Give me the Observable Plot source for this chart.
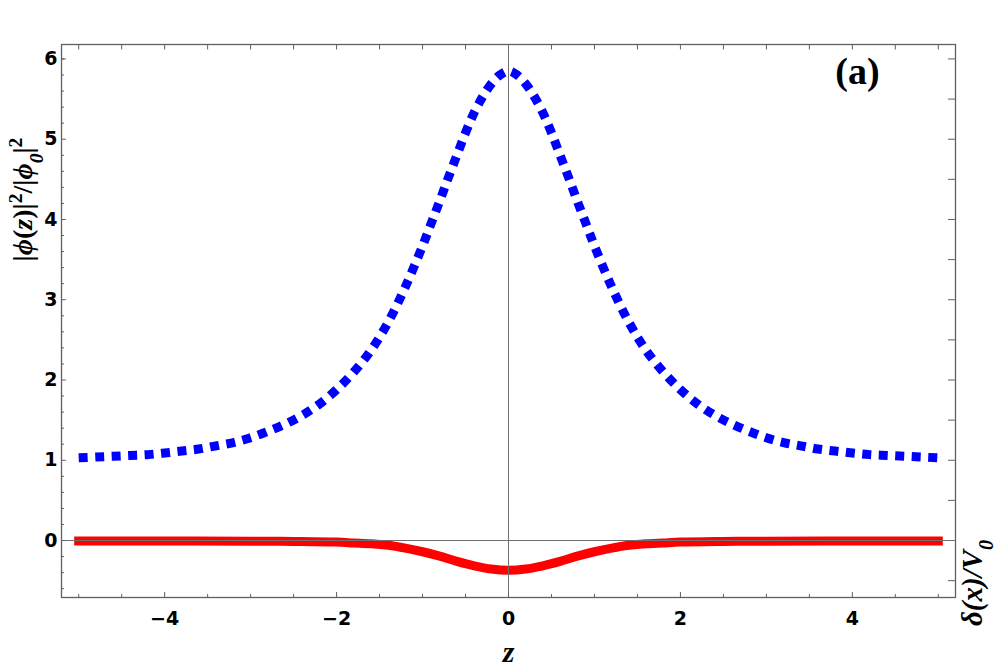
<!DOCTYPE html>
<html><head><meta charset="utf-8">
<script src="https://cdn.jsdelivr.net/npm/d3@7"></script>
<script src="https://cdn.jsdelivr.net/npm/@observablehq/plot@0.6"></script>
<style>html,body{margin:0;padding:0;background:#fff;} #chart{width:1000px;height:670px;overflow:hidden}</style>
</head><body><div id="chart"></div>
<script>
// Blue dotted curve |phi(z)|^2/|phi0|^2
const blueX = [-5,-4.8,-4.6,-4.4,-4.2,-4,-3.8,-3.6,-3.4,-3.2,-3,-2.8,-2.6,-2.4,-2.2,-2,-1.8,-1.6,-1.4,-1.2,-1,-0.9,-0.8,-0.7,-0.6,-0.5,-0.4,-0.3,-0.2,-0.1,0,0.1,0.2,0.3,0.4,0.5,0.6,0.7,0.8,0.9,1,1.2,1.4,1.6,1.8,2,2.2,2.4,2.6,2.8,3,3.2,3.4,3.6,3.8,4,4.2,4.4,4.6,4.8,5];
const blueY = [1.03,1.04,1.05,1.06,1.07,1.09,1.115,1.14,1.18,1.22,1.28,1.36,1.45,1.56,1.70,1.88,2.10,2.37,2.72,3.16,3.67,3.95,4.23,4.52,4.80,5.08,5.33,5.53,5.69,5.80,5.85,5.80,5.69,5.53,5.33,5.08,4.80,4.52,4.23,3.95,3.67,3.16,2.72,2.37,2.10,1.88,1.70,1.56,1.45,1.36,1.28,1.22,1.18,1.14,1.115,1.09,1.07,1.06,1.05,1.04,1.03];
// Red solid curve delta(x)/V0
const redX = [-5,-4,-3,-2.5,-2,-1.8,-1.6,-1.4,-1.2,-1,-0.8,-0.6,-0.4,-0.2,0,0.2,0.4,0.6,0.8,1,1.2,1.4,1.6,1.8,2,2.5,3,4,5];
const redY = [-0.005,-0.005,-0.008,-0.012,-0.02,-0.03,-0.04,-0.06,-0.095,-0.14,-0.195,-0.26,-0.315,-0.355,-0.37,-0.355,-0.315,-0.26,-0.195,-0.14,-0.095,-0.06,-0.04,-0.03,-0.02,-0.012,-0.008,-0.005,-0.005];

const xMajorTicks = [-4,-2,0,2,4];
const xMinorTicks = [-5,-4.5,-3.5,-3,-2.5,-1.5,-1,-0.5,0.5,1,1.5,2.5,3,3.5,4.5,5];
const xTopTicks = [-5,-4.5,-4,-3.5,-3,-2.5,-2,-1.5,-1,-0.5,0.5,1,1.5,2,2.5,3,3.5,4,4.5,5];
const yMajorTicks = [0,1,2,3,4,5,6];
const yMinorTicks = [-0.6,-0.4,-0.2,0.2,0.4,0.6,0.8,1.2,1.4,1.6,1.8,2.2,2.4,2.6,2.8,3.2,3.4,3.6,3.8,4.2,4.4,4.6,4.8,5.2,5.4,5.6,5.8,6.0];
const yRightTicks = [-0.5,0.5,1,1.5,2,2.5,3,3.5,4,4.5,5,5.5,6];

const xLabel = "z";
const yLabel = "|ϕ(z)|2/|ϕ0|2";
const y2Label = "δ(x)/V0";
const panelLabel = "(a)";

const blue = blueX.map((x, i) => ({x, y: blueY[i]}));
const red = redX.map((x, i) => ({x, y: redY[i]}));

const frameColor = "#606060";
const tickFont = {fontFamily: "DejaVu Sans", fontWeight: "bold", fontSize: 19, fill: "#000"};
const labelFont = {fontFamily: "Liberation Serif", fontWeight: "bold", fill: "#000", textAnchor: "middle", lineAnchor: "middle"};
const fmt = d => d < 0 ? "\u2212" + Math.abs(d) : String(d);

const plot = Plot.plot({
  width: 1000,
  height: 670,
  marginLeft: 61,
  marginRight: 45,
  marginTop: 44,
  marginBottom: 73,
  style: {background: "#fff", overflow: "visible"},
  x: {domain: [-5.2, 5.2], axis: null},
  y: {domain: [-0.71, 6.18], axis: null},
  marks: [
    Plot.line(blue, {x: "x", y: "y", stroke: "#0000ff", strokeWidth: 9, strokeDasharray: "9,7.5", strokeLinecap: "butt", curve: "catmull-rom"}),
    Plot.line(red, {x: "x", y: "y", stroke: "#ff0000", strokeWidth: 9, strokeLinecap: "square", curve: "catmull-rom"}),
    Plot.ruleX([0], {stroke: "#707070", strokeWidth: 1}),
    Plot.ruleY([0], {stroke: "#707070", strokeWidth: 1}),
    Plot.frame({stroke: frameColor, strokeWidth: 1.3}),
    // bottom
    Plot.axisX({anchor: "bottom", ticks: xMajorTicks, tickSize: -5, tickPadding: 19, tickFormat: fmt, stroke: frameColor, label: null, ...tickFont}),
    Plot.axisX({anchor: "bottom", ticks: xMinorTicks, tickSize: -3, tickFormat: () => "", stroke: frameColor, label: null}),
    // top
    Plot.axisX({anchor: "top", ticks: xTopTicks, tickSize: -4.5, tickFormat: () => "", stroke: frameColor, label: null}),
    // left
    Plot.axisY({anchor: "left", ticks: yMajorTicks, tickSize: -5, tickPadding: 9, tickFormat: fmt, stroke: frameColor, label: null, ...tickFont}),
    Plot.axisY({anchor: "left", ticks: yMinorTicks, tickSize: -3, tickFormat: () => "", stroke: frameColor, label: null}),
    // right
    Plot.axisY({anchor: "right", ticks: yRightTicks, tickSize: -8, tickFormat: () => "", stroke: frameColor, label: null}),
    // labels
    Plot.text([yLabel], {frameAnchor: "left", dx: -38, dy: -121.5, rotate: -90, fontSize: 28, ...labelFont}),
    Plot.text([y2Label], {frameAnchor: "right", dx: 17, dy: 262, rotate: -90, fontStyle: "italic", fontSize: 29, ...labelFont}),
    Plot.text([xLabel], {frameAnchor: "bottom", dy: 55, fontStyle: "italic", fontSize: 30, ...labelFont}),
    Plot.text([panelLabel], {frameAnchor: "top-right", dx: -98, dy: 27, fontSize: 38, ...labelFont})
  ]
});

// rich formatting of axis labels (italics, sub/superscripts)
plot.querySelectorAll("text").forEach(t => {
  if (t.textContent === yLabel) {
    t.innerHTML = '|<tspan font-style="italic">ϕ</tspan>(<tspan font-style="italic">z</tspan>)|<tspan baseline-shift="super" font-size="70%">2</tspan>/|<tspan font-style="italic">ϕ</tspan><tspan baseline-shift="sub" font-size="70%" font-style="italic">0</tspan>|<tspan baseline-shift="super" font-size="70%">2</tspan>';
  } else if (t.textContent === y2Label) {
    t.innerHTML = 'δ(x)/V<tspan baseline-shift="sub" font-size="70%">0</tspan>';
  }
});

document.getElementById("chart").appendChild(plot);
</script>
</body></html>
